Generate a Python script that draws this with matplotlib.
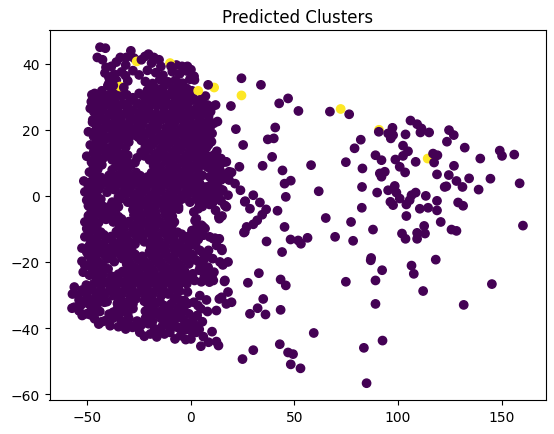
import matplotlib
matplotlib.use("Agg")
import matplotlib.pyplot as plt
import numpy as np

# points (x, y), grouped by region

# solid core of the big cluster, row by row
core = [
    (-41.5, 37.2), (-37, 36.8), (-33.5, 37.5), (-28, 37.9), (-25, 36.6), (-21, 38), (-17, 37.3),
    (-13.5, 36.5), (-9, 37.6), (-5.5, 36.9), (-2, 37.8), (1.5, 36.2),
    (-39.5, 34.2), (-36, 35), (-30.5, 34.8), (-22, 34.6), (-18.5, 34), (-15, 35.2), (-11, 34.5),
    (-7.5, 35), (-4, 34.1), (-0.5, 35.3),
    (-46.5, 31), (-43, 31.8), (-39, 30.8), (-35.5, 31.5), (-31, 30.6), (-25, 31), (-21, 31.9),
    (-17.5, 30.9), (-13.5, 31.7), (-10, 30.8), (-6, 31.5), (-2.5, 30.9), (0.5, 31.8), (7, 30.2),
    (-47, 28.2), (-44, 29), (-40.5, 28), (-37, 28.8), (-33, 27.9), (-29.5, 28.7), (-26, 28.1),
    (-22, 29), (-18.5, 28.2), (-14.5, 28.8), (-11, 27.8), (-7.5, 28.6), (-3.5, 28), (0, 28.9), (8, 27.5),
    (-46, 25.2), (-42.5, 26), (-39, 25), (-35.5, 25.8), (-31.5, 25.1), (-28, 26), (-24.5, 25.3),
    (-20.5, 25.9), (-17, 24.9), (-13, 25.7), (-9.5, 25), (-6, 25.8), (-2, 25.2), (2, 26), (6, 24.8), (9.5, 25.5),
    (-47.5, 22.3), (-44, 23), (-40.5, 22), (-36.5, 22.8), (-33, 22.1), (-29, 23), (-25.5, 22.2),
    (-22, 23.1), (-18, 22), (-14.5, 22.9), (-10.5, 22.2), (-7, 23), (-3, 22.3), (4, 22.8), (7.5, 22),
    (-46, 19.8), (-42.5, 19.1), (-38.5, 20), (-35, 19.2), (-31, 19.9), (-27.5, 19), (-24, 19.8),
    (-20, 19.2), (-16.5, 20), (-12.5, 19.1), (-9, 19.9), (-5, 19.3), (-1.5, 20), (2.5, 19), (6, 19.8), (9, 18.5),
    (-45, 16.2), (-41.5, 17), (-37.5, 16.1), (-34, 16.9), (-30, 16.3), (-24, 16.8), (-20.5, 16),
    (-16.5, 16.9), (-13, 16.1), (-9, 16.8), (-5.5, 16), (-1.5, 16.9), (2, 16.2), (6, 17), (8.5, 15.5),
    (-47, 13.2), (-43.5, 14), (-40, 13.1), (-36, 13.9), (-32, 13), (-24, 13.2), (-20.5, 13.9),
    (-16.5, 13), (-13, 13.8), (-9, 13.1), (-5.5, 13.9), (-1.5, 13), (2, 13.8), (5.5, 13), (12.5, 13.5),
    (-48, 10.2), (-44.5, 11), (-38, 10.9), (-34.5, 10), (-31, 10.8), (-27, 10.1), (-20, 10.9),
    (-16.5, 10), (-12.5, 10.8), (-9, 10.1), (-5, 10.9), (-1.5, 10), (2.5, 10.8), (6, 10.2), (12, 11.2), (14.5, 9.8),
    (-49, 7.2), (-45, 8), (-38, 7.9), (-34, 7), (-30.5, 7.8), (-26.5, 7.1), (-19, 7),
    (-15.5, 7.8), (-11.5, 7.1), (-8, 7.9), (-4, 7), (-0.5, 7.8), (3.5, 7.2), (10.5, 7), (14, 7.8), (16.5, 6.5),
    (-48.5, 4.2), (-45, 5), (-41, 4.1), (-37.5, 4.9), (-33.5, 4), (-30, 4.8), (-26, 4.1), (-22.5, 4.9),
    (-18.5, 4), (-15, 4.8), (-11, 4.1), (-7.5, 4.9), (-3.5, 4), (0, 4.8), (4, 4.1), (11, 4), (14.5, 4.8),
    (-48, 1.2), (-44.5, 2), (-40.5, 1.1), (-37, 1.9), (-33, 1), (-29.5, 1.8), (-25.5, 1.1), (-22, 1.9),
    (-18, 1), (-14.5, 1.8), (-10.5, 1.1), (-7, 1.9), (-3, 1), (0.5, 1.8), (4.5, 1.1), (11.5, 1), (15, 1.8),
    (-47, -1.8), (-43.5, -1), (-38, -1.9), (-34.5, -1.1), (-30.5, -1.9), (-27, -1.1), (-23, -1.8),
    (-19.5, -1), (-15.5, -1.9), (-12, -1.1), (-8, -1.8), (-4.5, -1), (-0.5, -1.9), (7, -1.2), (10.5, -2), (14.5, -1.5),
    (-47.5, -4.2), (-44, -5), (-40, -4.1), (-36.5, -4.9), (-28, -4.2), (-24.5, -5), (-20.5, -4.1),
    (-17, -4.9), (-13, -4.1), (-9.5, -4.9), (-6, -4),
    (-48, -7.2), (-44.5, -8), (-41, -7.1), (-37.5, -7.9), (-33.5, -7), (-30, -7.8), (-26, -7.1),
    (-22.5, -7.9), (-18.5, -7), (-15, -7.8), (-11, -7.1), (-8, -7.9), (2, -7.5),
    (-47, -10.2), (-43.5, -11), (-36, -10.8), (-32.5, -10), (-28.5, -10.9), (-25, -10.1), (-21, -10.9),
    (-17.5, -10), (-13.5, -10.8), (-10, -10.1), (-6.5, -11), (0.5, -10.5), (4, -11.2),
    (-48.5, -13.2), (-45, -14), (-41, -13.1), (-37.5, -13.9), (-33.5, -13), (-30, -13.8), (-26, -13.1),
    (-22.5, -13.9), (-18.5, -13), (-15, -13.8), (-11, -13.1), (-7.5, -13.9), (-3.5, -13), (0, -13.8), (3.5, -13.2),
    (-47, -16.2), (-43.5, -17), (-39.5, -16.1), (-36, -16.9), (-32, -16), (-28.5, -16.8), (-20, -16.9),
    (-16, -16.1), (-12.5, -16.9), (-8.5, -16), (-5, -16.8), (-1.5, -16.1), (8.5, -16.5),
    (-48, -19.2), (-44.5, -20), (-40.5, -19.1), (-37, -19.9), (-33, -19), (-29.5, -19.8), (-25.5, -19.1),
    (-22, -19.9), (-18, -19), (-14.5, -19.8), (-10.5, -19.1), (-7, -19.9), (-3, -19), (6, -19.6), (10.5, -19),
    (-47.5, -22.2), (-44, -23), (-40, -22.1), (-33, -22.9), (-29, -22), (-25.5, -22.8), (-21.5, -22.1),
    (-18, -22.9), (-14, -22), (-10.5, -22.8), (-6.5, -22.1), (-3, -22.9), (4, -22.5), (8, -23),
    (-45, -25.2), (-41.5, -26), (-37.5, -25.1), (-34, -25.9), (-30, -25), (-26.5, -25.8), (-22.5, -25.1),
    (-19, -25.9), (-15, -25), (-11.5, -25.8), (-7.5, -25.1), (-4, -25.9), (5, -26),
    (-52.5, -28.5), (-48.5, -28.2), (-43, -28.9), (-39, -28), (-35.5, -28.8), (-31.5, -28.1), (-28, -28.9),
    (-24, -28), (-20.5, -28.8), (-16.5, -28.1), (-13, -28.9), (-9, -28), (-5.5, -28.8),
    (-54, -31.5), (-44.5, -31.2), (-40.5, -32), (-34, -31.1), (-30, -31.9), (-26.5, -31.1), (-22.5, -31.9),
    (-19, -31.1), (-15, -31.9), (-8, -31.2), (7.5, -31.5),
    (-54, -34.8), (-48, -34.2), (-44, -35), (-35.5, -34.2), (-32, -35), (-28, -34.1), (-22, -34.9),
    (-18.5, -34.1), (-14.5, -34.9), (-11, -34.1), (-7, -34.9), (-3.5, -34.2), (8, -35),
    (-46.5, -37.2), (-41.5, -37.8), (-37.5, -37), (-33.5, -37.8), (-30, -37.1), (-26, -37.9), (-22, -37.1),
    (-18.5, -37.9), (-14.5, -37), (-10.5, -37.8), (-7, -37.1), (-3, -37.9), (1, -37.5),
    (-35, -39.6), (-31.5, -40.3), (-27.5, -39.5), (-17.5, -40.2), (-10, -40.3), (-6.5, -39.8), (-3, -40.6), (4, -40.4),
    (-22.5, -42.5), (-16.5, -42.7), (-5, -42.3), (-2.5, -43.5), (6, -42.6),
    (-36, 40.5), (-31.5, 39.6), (-27.5, 41.7), (-19, 40.2), (-14.5, 39.2), (-7, 39.6), (-3, 38.5),
]

# points sitting between the core rows
infill = [
    (-37.5, 33.2), (-20, 33.1), (-16.5, 32.4), (-13, 33.3), (-9, 32.6), (-5.5, 33.2), (-2, 32.5),
    (-44.5, 29.8), (-41, 30.3), (-37.5, 29.6), (-33.5, 30.2), (-28, 29.7), (-23, 30.3), (-19.5, 29.6),
    (-15.5, 30.1), (-12, 29.5), (-8, 30.2), (-4.5, 29.6), (-1, 30.1), (5.5, 29.5),
    (-45, 26.8), (-41.5, 27.4), (-38, 26.7), (-34.5, 27.3), (-30.5, 26.7), (-24, 27.2), (-20.5, 26.6),
    (-16.5, 27.3), (-13, 26.8), (-9, 27.4), (-5.5, 26.6), (-1.5, 27.2), (3, 26.9), (6.5, 27.3),
    (-44.5, 24), (-41, 23.6), (-37.5, 24.2), (-34, 23.7), (-30, 24.3), (-26.5, 23.6), (-23, 24.2),
    (-19, 23.8), (-15.5, 24.3), (-12, 23.6), (-8, 24.1), (-4.5, 23.7), (-0.5, 24.3), (4.5, 24),
    (-45.5, 21.2), (-42, 20.7), (-38.5, 21.3), (-34.5, 20.8), (-30.5, 21.4), (-27, 20.6), (-23.5, 21.3),
    (-19.5, 20.7), (-16, 21.2), (-12, 20.6), (-8.5, 21.3), (-4.5, 20.7), (2, 21.2), (5.5, 20.6),
    (-47, 18), (-43.5, 18.4), (-40, 17.7), (-36.5, 18.3), (-32.5, 17.6), (-29, 18.2), (-25.5, 17.8),
    (-22, 18.4), (-18, 17.6), (-14.5, 18.2), (-10.5, 17.7), (-7, 18.3), (-3, 17.7), (0.5, 18.3), (4, 17.6), (7.5, 18.2),
    (-46.5, 14.8), (-42.5, 15.3), (-39, 14.6), (-35, 15.2), (-31.5, 14.7), (-22, 14.9), (-18.5, 15.4),
    (-14.5, 14.7), (-11, 15.2), (-7, 14.6), (-3.5, 15.3), (0, 14.7), (4, 15.2), (7.5, 14.6),
    (-45.5, 12), (-42, 11.6), (-38.5, 12.2), (-34.5, 11.7), (-30.5, 12.3), (-26, 11.5), (-22.5, 12.1),
    (-18.5, 11.6), (-15, 12.2), (-11, 11.7), (-7.5, 12.3), (-3.5, 11.6), (0, 12.2), (4, 11.7), (7.5, 12.2), (10, 12),
    (-47, 9), (-43, 9.4), (-36, 9.2), (-32.5, 8.6), (-29, 9.3), (-18, 9.1), (-14.5, 8.6), (-10.5, 9.3),
    (-7, 8.7), (-3, 9.2), (0.5, 8.6), (4, 9.3), (8, 8.7), (12, 8.9),
    (-47, 6), (-43.5, 5.6), (-39.5, 6.2), (-36, 5.7), (-32, 6.3), (-28.5, 5.6), (-24.5, 6.1), (-21, 5.7),
    (-17, 6.3), (-13.5, 5.6), (-9.5, 6.2), (-6, 5.7), (-2, 6.3), (1.5, 5.6), (5.5, 6.2), (9, 5.8), (12.5, 6.3), (16, 5.7),
    (-49.5, 3), (-46.5, 2.6), (-43, 3.3), (-39, 2.7), (-35.5, 3.2), (-31.5, 2.6), (-28, 3.3), (-24, 2.7),
    (-20.5, 3.2), (-16.5, 2.6), (-13, 3.3), (-9, 2.7), (-5.5, 3.2), (-1.5, 2.6), (2, 3.3), (6, 2.7), (9.5, 3.2), (13, 2.6),
    (-49, -0.2), (-45.5, 0.3), (-35, -0.3), (-31.5, 0.3), (-27.5, -0.2), (-24, 0.3), (-20, -0.3),
    (-16.5, 0.2), (-12.5, -0.3), (-9, 0.3), (-5, -0.2), (-1.5, 0.3), (2.5, -0.3), (6, 0.2), (9.5, -0.2), (13, 0.3),
    (-49, -3.2), (-45.5, -2.7), (-42, -3.3), (-38.5, -2.8), (-35, -3.3), (-27.5, -3.2), (-24, -2.8),
    (-20, -3.3), (-16.5, -2.7), (-12.5, -3.2), (-9, -2.8), (-6, -3.3), (5.5, -3.2), (9, -2.6),
    (-49.5, -6), (-46, -5.6), (-42.5, -6.2), (-39, -5.7), (-35, -6.3), (-27.5, -5.8), (-24, -6.2),
    (-20, -5.7), (-16.5, -6.3), (-12.5, -5.6), (-9, -6.2),
    (-49, -9), (-45.5, -9.4), (-34.5, -9.2), (-31, -8.6), (-27.5, -9.3), (-23.5, -8.7), (-20, -9.2),
    (-16, -8.6), (-12.5, -9.3), (-9, -8.7), (3, -9.2),
    (-49.5, -12), (-45.5, -12.4), (-42, -11.8), (-38.5, -12.3), (-34.5, -11.7), (-31, -12.2), (-27, -11.7),
    (-23.5, -12.3), (-19.5, -11.6), (-16, -12.2), (-12, -11.7), (-8.5, -12.3), (-4.5, -11.6), (-1, -12.2),
    (2.5, -11.8), (9, -12.4),
    (-49, -15), (-45.5, -15.4), (-42, -14.8), (-38, -15.3), (-34.5, -14.7), (-30.5, -15.2), (-27, -14.6),
    (-19.5, -15.2), (-16, -14.7), (-12.5, -15.3), (-8.5, -14.6), (-5, -15.2), (-1, -14.7),
    (-49.5, -18), (-46, -18.4), (-42, -17.7), (-38.5, -18.3), (-34.5, -17.6), (-31, -18.2), (-27, -17.7),
    (-23.5, -18.3), (-19.5, -17.6), (-16, -18.2), (-12, -17.7), (-8.5, -18.3), (-4.5, -17.6), (-1, -18.2), (8, -18.4),
    (-49.5, -21), (-46, -20.6), (-42.5, -21.3), (-31, -20.7), (-27.5, -21.3), (-23.5, -20.7), (-20, -21.2),
    (-16, -20.6), (-12.5, -21.3), (-8.5, -20.7), (-5, -21.2), (-1, -20.6), (4.5, -21.2),
    (-49, -24), (-46, -24.4), (-42.5, -23.8), (-38.5, -24.3), (-35, -23.7), (-31, -24.2), (-27.5, -23.7),
    (-24, -24.3), (-20, -23.6), (-16.5, -24.2), (-12.5, -23.7), (-9, -24.3), (-5, -23.6), (-1.5, -24.2), (6.5, -24.4),
    (-50.5, -27), (-47, -26.6), (-43.5, -27.3), (-39.5, -26.7), (-36, -27.2), (-32, -26.6), (-28.5, -27.3),
    (-24.5, -26.7), (-21, -27.2), (-17, -26.6), (-13.5, -27.3), (-9.5, -26.7), (-6, -27.2), (-2, -26.6),
    (-54.5, -30), (-50.5, -29.6), (-45, -30.3), (-41.5, -29.7), (-37.5, -30.2), (-33.5, -29.6), (-29.5, -30.3),
    (-26, -29.7), (-22, -30.2), (-18.5, -29.6), (-14.5, -30.3), (-11, -29.7), (-7, -30.2),
    (-53, -33), (-49.5, -32.6), (-45.5, -33.3), (-35.5, -32.6), (-32, -33.3), (-28, -32.7), (-20.5, -33.3),
    (-17, -32.6), (-13, -33.2), (-9.5, -32.7), (-5.5, -33.3), (-1.5, -32.6),
    (-52.5, -36.2), (-48.5, -36), (-39.5, -35.8), (-35, -36.3), (-30.5, -35.7), (-20, -36.2), (-16.5, -35.7),
    (-12.5, -36.3), (-9, -35.7), (-5, -36.2), (-1, -35.7), (3, -36.2),
    (-44.5, -38.8), (-39, -39.3), (-33, -38.7), (-29.5, -39.2), (-24, -39.1), (-20.5, -38.7), (-12, -38.8),
    (-8.5, -39.3), (-1, -39.1), (2.5, -39.3),
]

# second cluster (yellow)
cluster_b = [
    (-26.2, 40.7), (-10.1, 40.2), (-34.2, 33.1), (3.5, 31.8), (11.2, 32.8),
    (24.4, 30.4), (72.3, 26.3), (90.8, 20.0), (114.3, 11.3),
]

# outline of the big cluster
edge = [
    (-43.9, 45.0), (-41.3, 44.7), (-45.2, 41.9), (-42.7, 41.2), (-29.0, 43.9), (-34.1, 41.9), (-31.2, 41.9),
    (-23.9, 41.2), (-22.2, 42.2), (-20.5, 42.9), (-17.9, 41.9), (-15.4, 41.2), (-9.6, 39.2),
    (-41.0, 38.9), (-38.4, 39.2), (-39.6, 35.9), (-32.4, 32.8), (-40.1, 33.4), (-37.5, 33.4), (-31.6, 36.4),
    (-47.8, 30.6), (-48.1, 28.5), (-48.6, 26.5), (-46.9, 25.5), (-47.4, 23.0), (-49.5, 19.4), (-48.6, 15.4),
    (-50.3, 12.0), (-46.9, 10.8), (-46.1, 7.8), (-51.7, 4.5), (-47.4, 3.2), (-51.2, 1.2), (-50.3, -1.3),
    (-49.5, -3.0), (-48.1, -4.9), (-51.2, -7.9), (-50.3, -9.9), (-51.2, -12.4), (-52.6, -15.8), (-50.3, -17.0),
    (-52.6, -19.8), (-51.2, -21.1), (-52.0, -23.1), (-56.3, -27.6), (-57.2, -29.7), (-57.4, -34.0),
    (-56.3, -33.7), (-51.2, -31.7), (-50.3, -35.7), (-46.9, -35.2), (-46.1, -29.1), (-47.4, -31.2),
    (-43.0, -38.1), (-41.8, -32.2), (-37.5, -35.2),
    (-28.2, -39.8), (-24.7, -41.3), (-19.6, -41.8), (-15.4, -41.3), (-12.8, -41.8), (-7.7, -43.3),
    (0, -43.3), (0, -40.8), (2.6, -41.3), (4.8, -45.5), (8.5, -44.3), (10.2, -41.1), (13.3, -45.3),
    (12.3, -44.1), (-5.1, -39.8), (-10.2, -41.3), (-13.7, -39.3),
    (5.5, -38.1), (4.8, -34.2), (3.4, -33.2), (1.4, -32.2), (-3.1, -31.7), (-1.7, -29.1), (12.3, -34.7),
    (13.7, -31.2), (17.1, -32.7), (19.6, -32.2), (17.9, -29.1), (16.2, -25.9), (17.9, -20.0), (15.4, -20.9),
    (10.2, -24.1), (8.9, -26.1), (11.1, -23.1), (15.0, -16.5), (13.7, -13.0), (11.6, -12.8), (6.0, -11.9),
    (5.1, -8.9), (6.8, -9.9), (0.9, -17.8), (2.2, -15.0), (4.3, -16.5), (6.0, -17.5), (2.6, -19.5),
    (0.9, -23.6), (1.7, -25.6), (14.0, -20.0), (8.3, -21.6), (10.8, -25.6), (16.4, -25.6), (4.3, -30.2),
    (14.8, -30.7), (-4.5, -31.7),
    (17.1, -3.3), (15.0, -6.1), (13.7, -6.9), (11.9, -4.4), (17.9, 0.2), (15.4, 1.7), (13.7, -0.8),
    (23.9, 1.7), (21.3, 3.7), (18.4, 4.8), (18.4, 7.3), (17.1, 10.3), (14.5, 11.3), (11.6, 12.6),
    (9.9, 16.4), (10.2, 18.9), (11.1, 22.0), (12.8, 22.5), (9.4, 21.0), (8.5, 24.0), (10.2, 27.0),
    (11.9, 27.5), (8.3, 33.6), (1.7, 35.1), (0, 38.2), (-1.7, 39.2), (-4.3, 39.2), (4.3, 29.0),
    (4.3, 25.5), (1.4, 29.3), (0.9, 24.5), (0.5, 22.0), (-0.9, 20.4), (3.4, 15.4), (6.0, 13.4),
    (9.4, 9.8), (5.1, 9.3), (10.2, 5.3), (7.7, 2.7), (3.4, 0.7), (3.8, -1.8), (1.4, -4.9), (2.6, -6.9),
    (19.6, 7.1), (16.4, 10.3), (18.0, 5.3), (16.4, -2.9), (13.5, -6.4), (8.3, 1.7), (12.4, 0.2),
    (7.6, -1.8), (3.5, -3.9), (5.9, -9.4), (10.8, -13.0), (12.4, -15.0), (14.8, -16.0),
]

# scattered points to the right
outliers = [
    (24.4, 35.6), (33.8, 33.6), (42.6, 28.0), (46.9, 29.5), (51.9, 25.7), (67.1, 25.5), (76.4, 24.7),
    (21.7, 20.2), (40.7, 20.7), (37.1, 17.1), (40.0, 17.4), (25.2, 15.4), (39.2, 11.8), (34.6, 9.1),
    (23.4, 8.8), (58.0, 9.3), (44.2, 7.7), (45.2, 3.7), (48.2, 4.6), (61.7, 1.4), (45.8, -0.3),
    (30.1, 0.2), (26.2, -1.6), (33.3, -2.0), (28.5, -3.9), (36.3, -4.1), (41.8, -4.5), (34.4, -5.7),
    (32.0, -7.4), (30.1, -8.6), (26.9, -9.4), (25.6, -11.1), (45.2, -9.4), (65.1, -6.7), (69.6, -12.4),
    (48.1, -13.2), (53.1, -14.5), (56.3, -12.7), (51.8, -13.5), (36.5, -13.8), (44.0, -17.0),
    (32.8, -23.4), (27.5, -26.3), (43.3, -25.3), (45.8, -27.1), (34.9, -31.2), (32.2, -34.0),
    (28.5, -35.7), (36.0, -35.9), (43.3, -34.5), (59.3, -41.5), (30.1, -46.7), (24.9, -49.4),
    (42.9, -44.9), (46.9, -47.4), (49.3, -47.9), (48.2, -51.0), (52.9, -52.2), (74.8, -26.0),
    (19.3, 27.2), (26.0, -1.8), (26.0, -10.9),
    (90.7, 19.4), (97.3, 20.6), (95.2, 18.9), (96.5, 17.4), (97.6, 18.4), (103.6, 18.6), (106.0, 22.8),
    (109.2, 21.7), (110.8, 19.2), (115.0, 19.2), (111.3, 20.4), (82.0, 17.0), (79.0, 14.4), (74.8, 10.2),
    (82.8, 8.3), (89.1, 12.3), (92.0, 10.8), (98.7, 11.0), (102.4, 15.2), (104.8, 13.5), (102.4, 12.1),
    (108.5, 10.3), (100.8, 8.8), (103.4, 7.1), (91.2, 6.8), (93.6, 7.3), (92.0, 5.8), (116.9, 12.8),
    (119.0, 12.3), (117.4, 10.1), (118.8, 6.5), (82.6, 2.7), (89.9, 1.0), (95.2, 1.7), (98.4, 3.0),
    (99.2, 1.0), (96.3, -1.8), (97.6, -2.8), (100.8, -0.8), (104.0, -2.6), (106.5, 0.2), (108.5, 1.0),
    (105.6, -1.3), (113.4, 0.0), (110.5, -3.9), (114.5, -3.6), (118.8, -1.5), (118.8, -4.4),
    (122.5, 2.7), (82.5, -3.6), (77.3, -7.9), (87.9, -10.2), (78.3, -13.6), (104.0, -6.1),
    (101.9, -11.4), (103.6, -13.0), (109.2, -11.2), (109.2, -13.0), (112.6, -9.1), (113.0, -11.4),
    (120.6, -7.9), (87.0, -18.8), (86.8, -19.5), (92.3, -22.5), (89.1, -25.6), (106.5, -21.1),
    (107.6, -23.6), (112.1, -28.8), (118.2, -19.3), (89.1, -32.7), (92.5, -43.8), (83.5, -46.0),
    (84.8, -56.7),
    (124.6, 19.9), (126.9, 18.4), (123.6, 16.4), (132.2, 14.6), (139.7, 11.3), (149.1, 13.7),
    (150.2, 12.1), (156.1, 12.5), (127.0, 9.1), (124.5, 6.3), (128.2, 4.5), (131.1, 2.7), (123.3, 2.9),
    (134.3, 5.3), (138.9, 1.9), (144.6, 5.2), (158.7, 3.8), (129.0, -2.0), (131.4, -3.0),
    (125.8, -10.2), (128.2, -10.6), (160.3, -9.0), (145.3, -26.7), (131.7, -33.0),
]

groups = [(core, 0), (infill, 0), (cluster_b, 1), (edge, 0), (outliers, 0)]
x = np.array([p[0] for pts, _ in groups for p in pts])
y = np.array([p[1] for pts, _ in groups for p in pts])
labels = np.array([lab for pts, lab in groups for _ in pts])

fig = plt.figure(figsize=(5.54, 4.35), dpi=100)
ax = fig.add_axes([49.5 / 554, 34 / 435, 496 / 554, 369.6 / 435])
ax.scatter(x, y, c=labels, cmap="viridis")
ax.set_title("Predicted Clusters")

fig.savefig("out.png", dpi=100)
